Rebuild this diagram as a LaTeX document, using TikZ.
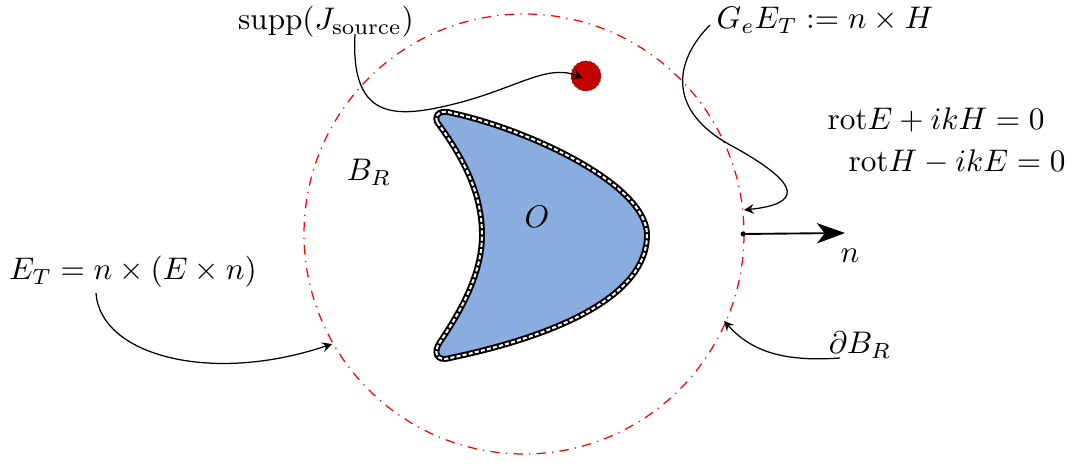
\documentclass[tikz,border=0pt]{standalone}
\usepackage{amsmath, amssymb}
\usetikzlibrary{arrows.meta}
\definecolor{obstblue}{RGB}{138,173,224}
\definecolor{srcred}{RGB}{196,0,0}
\begin{document}
\begin{tikzpicture}[x=0.32pt, y=-0.32pt, >=stealth,
    lbl/.style={inner sep=1pt},
    pointer/.style={->, thin}]
    \useasboundingbox (0,0) rectangle (1075,468);

    % 球 B_R 的边界
    \draw[red, thin, dash dot] (524,234) circle (220);

    % 障碍物 O
    \def\obstpath{(437,122) .. controls (434,113) and (442,110) .. (452,113)
        .. controls (530,130) and (647,185) .. (647,235)
        .. controls (647,295) and (560,335) .. (450,358)
        .. controls (436,362) and (433,352) .. (440,342)
        .. controls (465,305) and (482,270) .. (482,235)
        .. controls (482,195) and (465,160) .. (437,122) -- cycle}
    \draw[black, line width=1.9pt, fill=obstblue] \obstpath;
    \draw[white, line width=0.65pt, dash pattern=on 1.3pt off 0.7pt] \obstpath;

    % 源的支集
    \filldraw[srcred, draw=black!70, densely dotted] (586,76) circle (15);

    % 标注
    \node[lbl] (obst) at (537,217) {$O$};
    \node[lbl] (ball) at (369,172) {$B_R$};
    \node[lbl] (supp) at (326,22) {$\operatorname{supp}(J_{\text{source}})$};
    \node[lbl] (imp) at (825,20) {$G_eE_T := n\times H$};
    \node[lbl] (eqE) at (936,120) {$\mathrm{rot}E+ikH=0$};
    \node[lbl] (eqH) at (957,162) {$\mathrm{rot}H-ikE=0$};
    \node[lbl] (tang) at (133,272) {$E_T=n\times(E\times n)$};
    \node[lbl] (bdry) at (860,345) {$\partial B_R$};
    \node[lbl] (nlbl) at (850,256) {$n$};

    % 连线端点
    \coordinate (suppA) at (355,34);
    \coordinate (suppB) at (583,78);
    \coordinate (impA) at (710,25);
    \coordinate (impB) at (744,210);
    \coordinate (tangA) at (96,293);
    \coordinate (tangB) at (332,344);
    \coordinate (bdryA) at (840,358);
    \coordinate (bdryB) at (724,321);
    \coordinate (nA) at (743,234);
    \coordinate (nB) at (845,233);

    % 箭头
    \draw[pointer] (suppA) .. controls (350,125) and (400,118) .. (462,102)
        .. controls (520,86) and (548,64) .. (suppB);
    \draw[pointer] (impA) .. controls (675,60) and (665,110) .. (732,146)
        .. controls (805,186) and (800,204) .. (impB);
    \draw[pointer] (tangA) .. controls (100,355) and (210,385) .. (tangB);
    \draw[pointer] (bdryA) .. controls (785,362) and (752,352) .. (bdryB);
    \fill (nA) circle (2.5);
    \draw[->, semithick, >={Stealth[length=9pt,width=6.5pt,inset=2.5pt]}] (nA) -- (nB);
\end{tikzpicture}
\end{document}
